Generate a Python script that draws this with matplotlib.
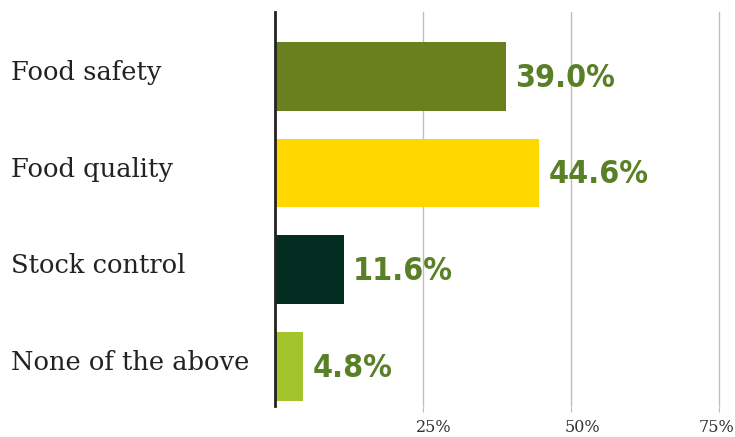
import matplotlib
matplotlib.use("Agg")
import matplotlib.pyplot as plt
import matplotlib.transforms as mtransforms

# data
categories = ["Food safety", "Food quality", "Stock control", "None of the above"]
values = [39.0, 44.6, 11.6, 4.8]
bar_colors = ["#6a7f1d", "#ffd800", "#032d21", "#a3c42a"]
tick_values = [25, 50, 75]
tick_labels = ["25%", "50%", "75%"]

fig = plt.figure(figsize=(7.35, 4.37), dpi=100)
ax = fig.add_axes([275 / 735, 31 / 437, 460 / 735, 394 / 437])

y = list(range(len(categories)))
ax.barh(y, values, height=0.71, color=bar_colors, zorder=2)

ax.set_xlim(0, 77.7)
ax.set_ylim(3.41, -0.665)

# vertical grid lines
ax.set_xticks(tick_values)
ax.set_xticklabels(tick_labels, fontsize=11.5, family="DejaVu Serif", color="#333333")
ax.grid(axis="x", color="#bdbdbd", linewidth=1, zorder=0)
ax.tick_params(axis="x", length=4, color="#bdbdbd", pad=5)
shifts = [11, 11, -3]
for lbl, dx in zip(ax.get_xticklabels(), shifts):
    lbl.set_transform(lbl.get_transform() + mtransforms.ScaledTranslation(dx / 100, 0, fig.dpi_scale_trans))

ax.set_yticks([])
for side in ["top", "right", "bottom"]:
    ax.spines[side].set_visible(False)
ax.spines["left"].set_color("#222222")
ax.spines["left"].set_linewidth(2)
ax.spines["left"].set_zorder(3)

# category labels at the left edge of the figure
trans = mtransforms.blended_transform_factory(fig.transFigure, ax.transData)
for yi, cat in zip(y, categories):
    ax.text(11 / 735, yi - 0.04, cat, transform=trans, ha="left", va="center",
            fontsize=18.5, family="DejaVu Serif", color="#222222")

# value labels
for yi, v in zip(y, values):
    ax.text(v + 1.6, yi + 0.02, f"{v:.1f}%", ha="left", va="center",
            fontsize=23, fontweight="bold", fontstretch="condensed",
            family="DejaVu Sans", color="#5a8027")

fig.savefig("out.png", dpi=100)
